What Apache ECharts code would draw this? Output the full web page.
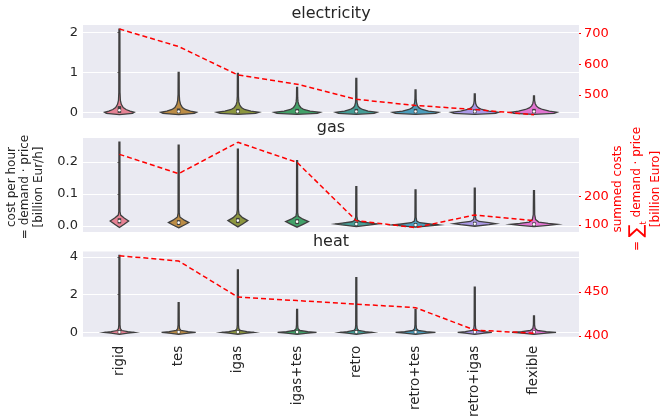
<!DOCTYPE html>
<html><head><meta charset="utf-8">
<script src="https://cdn.jsdelivr.net/npm/echarts@6/dist/echarts.min.js"></script>
<style>html,body{margin:0;padding:0;background:#fff}#c{width:667px;height:420px}</style>
</head><body><div id="c"></div>
<script>
const categories = ['rigid','tes','igas','igas+tes','retro','retro+tes','retro+igas','flexible'];
const panelTitles = ['electricity','gas','heat'];

// summed costs (right axis, billion Euro)
const elecTotals = [714, 657, 565, 535, 486, 466, 453, 436];
const gasTotals  = [346, 279, 388, 318, 115, 91, 135, 115];
const heatTotals = [491, 485, 444, 440, 436, 432, 406.5, 403];

// tick labels
const elecLeftTicks = [0, 1, 2];
const gasLeftTicks = [0, 0.1, 0.2];
const heatLeftTicks = [0, 2, 4];
const elecRightTicks = [500, 600, 700];
const gasRightTicks = [100, 200];
const heatRightTicks = [400, 450];

// violin outlines: [value, relative density] from bottom to top
const elecViolins = [
  [[-0.06,0],[-0.03,0.55],[0,0.63],[0.03,0.45],[0.07,0.28],[0.12,0.16],[0.2,0.08],[0.3,0.04],[0.5,0.025],[2.08,0.02]],
  [[-0.06,0],[-0.03,0.66],[0,0.76],[0.03,0.5],[0.07,0.28],[0.12,0.16],[0.2,0.08],[0.3,0.04],[0.45,0.025],[1.0,0.02]],
  [[-0.05,0],[-0.025,0.75],[0,0.89],[0.03,0.55],[0.07,0.28],[0.12,0.15],[0.18,0.08],[0.26,0.04],[0.4,0.025],[0.97,0.02]],
  [[-0.05,0],[-0.025,0.85],[0,0.97],[0.03,0.55],[0.07,0.28],[0.12,0.15],[0.18,0.08],[0.26,0.04],[0.36,0.025],[0.62,0.02]],
  [[-0.05,0],[-0.025,0.75],[0,0.87],[0.03,0.5],[0.07,0.26],[0.11,0.14],[0.16,0.07],[0.24,0.035],[0.35,0.025],[0.85,0.02]],
  [[-0.05,0],[-0.025,0.85],[0,0.97],[0.03,0.55],[0.07,0.28],[0.11,0.15],[0.16,0.08],[0.24,0.04],[0.34,0.025],[0.56,0.02]],
  [[-0.05,0],[-0.025,0.88],[0,1.0],[0.03,0.6],[0.07,0.3],[0.11,0.16],[0.16,0.08],[0.22,0.04],[0.3,0.025],[0.46,0.02]],
  [[-0.05,0],[-0.025,0.85],[0,0.97],[0.03,0.65],[0.07,0.36],[0.11,0.2],[0.16,0.1],[0.22,0.05],[0.3,0.025],[0.41,0.02]]
];
const gasViolins = [
  [[-0.005,0],[0.005,0.2],[0.0155,0.39],[0.025,0.2],[0.034,0.05],[0.045,0.025],[0.262,0.02]],
  [[-0.006,0],[0.003,0.24],[0.0105,0.43],[0.018,0.24],[0.028,0.05],[0.04,0.025],[0.253,0.02]],
  [[-0.003,0],[0.007,0.22],[0.0165,0.42],[0.026,0.2],[0.037,0.05],[0.05,0.025],[0.24,0.02]],
  [[-0.004,0],[0.005,0.25],[0.0135,0.48],[0.021,0.25],[0.03,0.05],[0.042,0.025],[0.204,0.02]],
  [[-0.002,0],[0.003,0.6],[0.006,0.89],[0.009,0.6],[0.013,0.18],[0.018,0.05],[0.03,0.025],[0.123,0.02]],
  [[-0.004,0],[0.0,0.6],[0.003,0.98],[0.006,0.6],[0.01,0.18],[0.015,0.05],[0.027,0.025],[0.113,0.02]],
  [[-0.001,0],[0.004,0.6],[0.007,0.88],[0.01,0.6],[0.014,0.18],[0.02,0.05],[0.032,0.025],[0.118,0.02]],
  [[-0.002,0],[0.002,0.6],[0.005,0.97],[0.008,0.6],[0.012,0.2],[0.02,0.07],[0.035,0.03],[0.11,0.02]]
];
const heatViolins = [
  [[-0.1,0],[-0.04,0.35],[0,0.63],[0.04,0.35],[0.1,0.1],[0.2,0.04],[0.4,0.025],[4.08,0.02]],
  [[-0.1,0],[-0.04,0.4],[0,0.72],[0.04,0.4],[0.1,0.1],[0.2,0.04],[0.4,0.025],[1.57,0.02]],
  [[-0.1,0],[-0.04,0.38],[0,0.68],[0.04,0.38],[0.1,0.1],[0.2,0.04],[0.4,0.025],[3.31,0.02]],
  [[-0.1,0],[-0.04,0.45],[0,0.82],[0.04,0.45],[0.1,0.12],[0.2,0.04],[0.4,0.025],[1.22,0.02]],
  [[-0.1,0],[-0.04,0.38],[0,0.68],[0.04,0.38],[0.1,0.1],[0.2,0.04],[0.4,0.025],[2.9,0.02]],
  [[-0.1,0],[-0.04,0.46],[0,0.84],[0.04,0.46],[0.1,0.12],[0.2,0.04],[0.4,0.025],[1.22,0.02]],
  [[-0.1,0],[-0.04,0.4],[0,0.72],[0.04,0.4],[0.1,0.1],[0.2,0.04],[0.4,0.025],[2.39,0.02]],
  [[-0.1,0],[-0.04,0.52],[0,0.93],[0.04,0.52],[0.1,0.15],[0.2,0.05],[0.4,0.025],[0.87,0.02]]
];
// inner boxes: [q1, median, q3]
const elecBoxes = [[0.01,0.05,0.13],[0,0.02,0.07],[0,0.02,0.06],[0,0.02,0.06],[0,0.02,0.06],[0,0.02,0.06],[0,0.02,0.05],[0,0.02,0.06]];
const gasBoxes = [[0.011,0.0156,0.021],[0.006,0.0103,0.015],[0.012,0.0166,0.022],[0.009,0.0134,0.018],[0.004,0.006,0.009],[0.001,0.003,0.006],[0.005,0.007,0.01],[0.003,0.005,0.008]];
const heatBoxes = [[0,0.02,0.07],[0,0.02,0.06],[0,0.02,0.07],[0,0.02,0.06],[0,0.02,0.07],[0,0.02,0.06],[0,0.02,0.07],[0,0.02,0.06]];

const colors = ['#e68294','#bb8c46','#8c963f','#42a169','#459e97','#4c9ebd','#ab99e7','#e274d1'];

const FONT = 'DejaVu Sans';
const TXT = '#262626';
const EDGE = '#3f3f3f';

const grids = [
  {left: 83, right: 88, top: 25, height: 93},
  {left: 83, right: 88, top: 138, height: 94},
  {left: 83, right: 88, top: 251.5, height: 93.5}
];
const leftRanges = [[-0.143, 2.183], [-0.019, 0.275], [-0.227, 4.28]];
const rightRanges = [[425.4, 726.9], [75.6, 403], [399, 495.8]];
const leftTicks = [elecLeftTicks, gasLeftTicks, heatLeftTicks];
const rightTicks = [elecRightTicks, gasRightTicks, heatRightTicks];
const leftFmt = [v => String(Math.round(v)), v => v.toFixed(1), v => String(Math.round(v))];
const totals = [elecTotals, gasTotals, heatTotals];
const violins = [elecViolins, gasViolins, heatViolins];
const boxes = [elecBoxes, gasBoxes, heatBoxes];

const xAxes = [], yAxes = [], series = [];
for (let g = 0; g < 3; g++) {
  const last = g === 2;
  xAxes.push({
    gridIndex: g, type: 'value', min: -0.615, max: 7.76,
    axisLine: {show: false}, axisTick: {show: false}, splitLine: {show: false},
    axisLabel: last ? {
      show: true, customValues: categories.map((c, i) => i),
      formatter: v => categories[Math.round(v)], rotate: 90,
      fontFamily: FONT, fontSize: 13.5, color: TXT, margin: 9
    } : {show: false}
  });
  yAxes.push({
    gridIndex: g, type: 'value', position: 'left',
    min: leftRanges[g][0], max: leftRanges[g][1],
    axisLine: {show: false},
    axisTick: {show: true, length: 2, customValues: leftTicks[g], lineStyle: {color: '#555'}},
    axisLabel: {customValues: leftTicks[g], formatter: leftFmt[g], fontFamily: FONT, fontSize: 13, color: TXT, margin: 5},
    splitLine: {show: true, lineStyle: {color: '#ffffff', width: 1}}
  });
  yAxes.push({
    gridIndex: g, type: 'value', position: 'right',
    min: rightRanges[g][0], max: rightRanges[g][1],
    axisLine: {show: false},
    axisTick: {show: true, length: 2, customValues: rightTicks[g], lineStyle: {color: '#ff0000'}},
    axisLabel: {customValues: rightTicks[g], fontFamily: FONT, fontSize: 13, color: '#ff0000', margin: 5},
    splitLine: {show: false}
  });
  const prof = violins[g], bx = boxes[g];
  series.push({
    type: 'custom', xAxisIndex: g, yAxisIndex: g * 2,
    data: prof.map((p, i) => [i, p[p.length - 1][0]]),
    encode: {x: 0, y: 1}, clip: false, z: 2,
    renderItem: function (params, api) {
      const i = api.value(0);
      const p = prof[i];
      const half = 0.4 * api.size([1, 0])[0];
      const right = [], left = [];
      p.forEach(function (pt) {
        const c = api.coord([i, pt[0]]);
        right.push([c[0] + pt[1] * half, c[1]]);
        left.push([c[0] - pt[1] * half, c[1]]);
      });
      const pts = right.concat(left.reverse());
      const b = bx[i];
      const c1 = api.coord([i, b[0]]), cm = api.coord([i, b[1]]), c3 = api.coord([i, b[2]]);
      return {type: 'group', children: [
        {type: 'polygon', shape: {points: pts}, style: {fill: colors[i], stroke: EDGE, lineWidth: 1.3}},
        {type: 'line', shape: {x1: c1[0], y1: c1[1] + 1, x2: c3[0], y2: c3[1] - 1}, style: {stroke: EDGE, lineWidth: 3.5}},
        {type: 'circle', shape: {cx: cm[0], cy: cm[1], r: 1.3}, style: {fill: '#ffffff'}}
      ]};
    }
  });
  series.push({
    type: 'line', xAxisIndex: g, yAxisIndex: g * 2 + 1, z: 5,
    data: totals[g].map((v, i) => [i, v]),
    symbol: 'none', silent: true,
    lineStyle: {color: '#ff0000', width: 1.5, type: [5, 3]}
  });
}

const titleY = [14, 128, 242];
const graphic = panelTitles.map((t, g) => ({
  type: 'text', x: 331, y: titleY[g],
  style: {text: t, align: 'center', verticalAlign: 'middle', fontFamily: FONT, fontSize: 16, fill: TXT}
}));
graphic.push({
  type: 'text', x: 25, y: 187, rotation: Math.PI / 2,
  style: {text: 'cost per hour\n= demand · price\n[billion Eur/h]', align: 'center', verticalAlign: 'middle',
    fontFamily: FONT, fontSize: 12, lineHeight: 13.5, fill: TXT}
});
graphic.push({
  type: 'text', x: 637, y: 189, rotation: Math.PI / 2,
  style: {
    text: '{n|summed costs}\n{n|= }{s|∑}{t|t}{n| demand · price}\n{n|[billion Euro]}',
    align: 'center', verticalAlign: 'middle', fill: '#ff0000',
    rich: {
      n: {fontFamily: FONT, fontSize: 12, fill: '#ff0000', lineHeight: 17},
      s: {fontFamily: FONT, fontSize: 19, fill: '#ff0000', lineHeight: 21},
      t: {fontFamily: FONT, fontSize: 8, fill: '#ff0000', verticalAlign: 'bottom', lineHeight: 21}
    }
  }
});

const chart = echarts.init(document.getElementById('c'), null, {renderer: 'canvas'});
chart.setOption({
  animation: false,
  backgroundColor: '#ffffff',
  grid: grids.map(g => Object.assign({show: true, backgroundColor: '#eaeaf2', borderWidth: 0}, g)),
  xAxis: xAxes, yAxis: yAxes, series: series, graphic: graphic
});
</script></body></html>
